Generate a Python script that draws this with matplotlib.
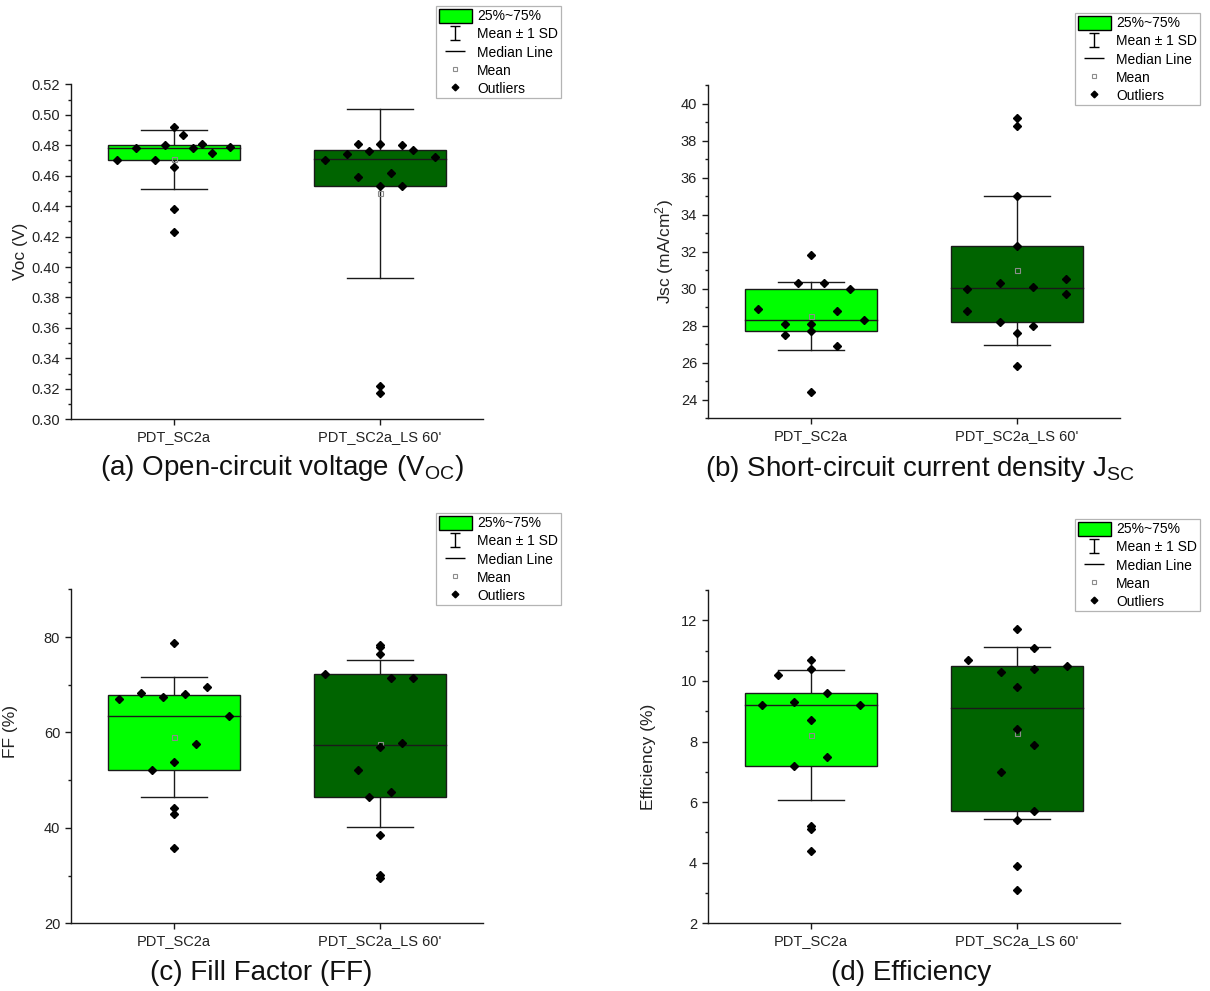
import matplotlib
matplotlib.use("Agg")
import matplotlib.pyplot as plt
from matplotlib.patches import Patch, Rectangle
from matplotlib.lines import Line2D
from matplotlib.path import Path
from matplotlib.ticker import MultipleLocator, FormatStrFormatter

plt.rcParams['font.family'] = ['Liberation Sans', 'DejaVu Sans']
plt.rcParams['mathtext.fontset'] = 'custom'
plt.rcParams['mathtext.rm'] = 'Liberation Sans'

# ---------------- data ----------------
groups = ["PDT_SC2a", "PDT_SC2a_LS 60'"]
box_colors = ["#00FF00", "#006400"]

# Open-circuit voltage (V)
voc_q1 = [0.470, 0.453]
voc_median = [0.478, 0.471]
voc_q3 = [0.480, 0.477]
voc_mean = [0.4707, 0.4485]
voc_sd = [0.0194, 0.0555]
voc_pts_1 = [0.470, 0.478, 0.470, 0.480, 0.492, 0.466, 0.438, 0.423, 0.487, 0.478, 0.481, 0.475, 0.479]
voc_pts_2 = [0.470, 0.474, 0.481, 0.459, 0.476, 0.481, 0.453, 0.322, 0.317, 0.462, 0.480, 0.453, 0.477, 0.472]

# Short-circuit current density (mA/cm2)
jsc_q1 = [27.7, 28.2]
jsc_median = [28.3, 30.05]
jsc_q3 = [30.0, 32.3]
jsc_mean = [28.52, 31.0]
jsc_sd = [1.85, 4.02]
jsc_pts_1 = [28.9, 28.1, 27.5, 30.3, 31.8, 28.1, 27.7, 24.4, 30.3, 28.8, 26.9, 30.0, 28.3]
jsc_pts_2 = [30.0, 28.8, 30.3, 28.2, 39.2, 38.8, 35.0, 32.3, 27.6, 25.8, 30.1, 28.0, 30.5, 29.7]

# Fill factor (%)
ff_q1 = [52.2, 46.4]
ff_median = [63.5, 57.4]
ff_q3 = [67.9, 72.2]
ff_mean = [59.1, 57.6]
ff_sd = [12.6, 17.5]
ff_pts_1 = [67.0, 68.2, 52.2, 67.4, 78.8, 53.9, 44.1, 42.9, 35.7, 68.0, 57.5, 69.5, 63.5]
ff_pts_2 = [72.2, 52.1, 46.4, 78.4, 78.0, 76.4, 57.0, 38.5, 30.2, 29.5, 71.5, 47.5, 57.8, 71.5]

# Efficiency (%)
eff_q1 = [7.2, 5.7]
eff_median = [9.2, 9.1]
eff_q3 = [9.6, 10.5]
eff_mean = [8.21, 8.28]
eff_sd = [2.14, 2.83]
eff_pts_1 = [9.2, 10.2, 9.3, 7.2, 10.7, 10.4, 8.7, 5.2, 5.1, 4.4, 9.6, 7.5, 9.2]
eff_pts_2 = [10.7, 10.3, 7.0, 11.7, 9.8, 8.4, 5.4, 3.9, 3.1, 11.1, 10.4, 7.9, 5.7, 10.5]

# horizontal scatter of the individual points (category units)
voc_jit_1 = [-0.275, -0.184, -0.092, -0.045, 0, 0, 0, 0, 0.045, 0.091, 0.136, 0.183, 0.273]
voc_jit_2 = [-0.267, -0.160, -0.107, -0.107, -0.053, 0, 0, 0, 0, 0.053, 0.107, 0.107, 0.160, 0.267]
jsc_jit_1 = [-0.257, -0.128, -0.128, -0.065, 0, 0, 0, 0, 0.063, 0.128, 0.128, 0.191, 0.256]
jsc_jit_2 = [-0.241, -0.241, -0.081, -0.081, 0, 0, 0, 0, 0, 0, 0.079, 0.079, 0.239, 0.239]
ff_jit_1 = [-0.267, -0.160, -0.107, -0.053, 0, 0, 0, 0, 0, 0.053, 0.107, 0.160, 0.267]
ff_jit_2 = [-0.267, -0.107, -0.053, 0, 0, 0, 0, 0, 0, 0, 0.053, 0.053, 0.107, 0.160]
eff_jit_1 = [-0.239, -0.160, -0.081, -0.081, 0, 0, 0, 0, 0, 0, 0.079, 0.079, 0.239]
eff_jit_2 = [-0.239, -0.079, -0.079, 0, 0, 0, 0, 0, 0, 0.081, 0.081, 0.081, 0.081, 0.241]

# ---------------- drawing ----------------
W, H = 1210, 991
fig = plt.figure(figsize=(W / 100, H / 100), dpi=100)
EDGE = "#1a1a1a"


def px_axes(left, top, right, bottom):
    return fig.add_axes([left / W, 1 - bottom / H, (right - left) / W, (bottom - top) / H])


def draw_group(ax, pos, q1, med, q3, mean, sd, color, pts, jit):
    bw, cw = 0.64, 0.32
    hi, lo = mean + sd, mean - sd
    ax.plot([pos, pos], [lo, hi], color=EDGE, lw=1.0, zorder=1)
    ax.plot([pos - cw / 2, pos + cw / 2], [hi, hi], color=EDGE, lw=1.0, zorder=1)
    ax.plot([pos - cw / 2, pos + cw / 2], [lo, lo], color=EDGE, lw=1.0, zorder=1)
    ax.add_patch(Rectangle((pos - bw / 2, q1), bw, q3 - q1, facecolor=color,
                           edgecolor=EDGE, lw=1.0, zorder=2))
    ax.plot([pos - bw / 2, pos + bw / 2], [med, med], color=EDGE, lw=1.0, zorder=3)
    ax.plot([pos], [mean], ls='none', marker='s', ms=3.6, mfc='none',
            mec='#8c8c8c', mew=0.8, zorder=4)
    ax.plot([pos + j for j in jit], pts, ls='none', marker='D', ms=3.6,
            color='black', zorder=5)


def style(ax, ylim, major, minor, fmt, ylabel, lab_x, lab_y=0.5):
    ax.set_xlim(0.5, 2.5)
    ax.set_ylim(*ylim)
    ax.set_xticks([1, 2])
    ax.set_xticklabels(groups)
    ax.yaxis.set_major_locator(MultipleLocator(major))
    ax.yaxis.set_minor_locator(MultipleLocator(minor))
    ax.yaxis.set_major_formatter(FormatStrFormatter(fmt))
    for s in ['top', 'right']:
        ax.spines[s].set_visible(False)
    for s in ['left', 'bottom']:
        ax.spines[s].set_linewidth(1.0)
        ax.spines[s].set_color(EDGE)
    ax.tick_params(which='major', direction='out', length=4.3, width=1.0,
                   labelsize=10.5, color=EDGE, labelcolor='#222222')
    ax.tick_params(which='minor', direction='out', length=2.4, width=1.0, color=EDGE)
    ax.tick_params(axis='x', which='minor', bottom=False)
    ax.set_ylabel(ylabel, fontsize=12.5, color='#222222')
    ax.yaxis.set_label_coords(lab_x, lab_y)


panels = [
    dict(box=(71, 84.3, 483, 419.3), q1=voc_q1, med=voc_median, q3=voc_q3, mean=voc_mean,
         sd=voc_sd, pts=[voc_pts_1, voc_pts_2], jit=[voc_jit_1, voc_jit_2],
         ylim=(0.30, 0.52), major=0.02, minor=0.01, fmt='%.2f', ylabel='Voc (V)',
         lab_x=-0.104, lab_y=0.5),
    dict(box=(708, 85, 1120, 418.3), q1=jsc_q1, med=jsc_median, q3=jsc_q3, mean=jsc_mean,
         sd=jsc_sd, pts=[jsc_pts_1, jsc_pts_2], jit=[jsc_jit_1, jsc_jit_2],
         ylim=(23, 41), major=2, minor=1, fmt='%d', ylabel='Jsc (mA/cm$\\mathregular{^2}$)',
         lab_x=-0.078, lab_y=0.5),
    dict(box=(71, 589.3, 483, 923.3), q1=ff_q1, med=ff_median, q3=ff_q3, mean=ff_mean,
         sd=ff_sd, pts=[ff_pts_1, ff_pts_2], jit=[ff_jit_1, ff_jit_2],
         ylim=(20, 90), major=20, minor=10, fmt='%d', ylabel='FF (%)',
         lab_x=-0.128, lab_y=0.575),
    dict(box=(708, 590, 1120, 923.3), q1=eff_q1, med=eff_median, q3=eff_q3, mean=eff_mean,
         sd=eff_sd, pts=[eff_pts_1, eff_pts_2], jit=[eff_jit_1, eff_jit_2],
         ylim=(2, 13), major=2, minor=1, fmt='%d', ylabel='Efficiency (%)',
         lab_x=-0.126, lab_y=0.5),
]

for p in panels:
    ax = px_axes(*p['box'])
    for i in range(2):
        draw_group(ax, i + 1, p['q1'][i], p['med'][i], p['q3'][i], p['mean'][i],
                   p['sd'][i], box_colors[i], p['pts'][i], p['jit'][i])
    style(ax, p['ylim'], p['major'], p['minor'], p['fmt'], p['ylabel'], p['lab_x'], p['lab_y'])

# key entries
ibeam = Path([(-0.7, 1), (0.7, 1), (0, 1), (0, -1), (-0.7, -1), (0.7, -1)],
             [Path.MOVETO, Path.LINETO, Path.MOVETO, Path.LINETO, Path.MOVETO, Path.LINETO])
key_handles = [
    Patch(facecolor='#00FF00', edgecolor='black', lw=1.0),
    Line2D([], [], ls='none', marker=ibeam, ms=10.5, mec='black', mew=1.0),
    Line2D([], [], ls='none', marker='_', ms=14, mec='black', mew=1.0),
    Line2D([], [], ls='none', marker='s', ms=3.4, mfc='none', mec='#8c8c8c', mew=0.8),
    Line2D([], [], ls='none', marker='D', ms=3.4, color='black'),
]
key_labels = ['25%~75%', 'Mean \u00b1 1 SD', 'Median Line', 'Mean', 'Outliers']

for (lx, ly) in [(436, 6), (1075, 13), (436, 513), (1075, 519)]:
    leg = fig.legend(key_handles, key_labels, loc='upper left',
                     bbox_to_anchor=(lx / W, 1 - ly / H), bbox_transform=fig.transFigure,
                     fontsize=10, handlelength=2.4, handleheight=1.15, labelspacing=0.25,
                     borderpad=0.2, handletextpad=0.35, borderaxespad=0,
                     fancybox=False, framealpha=1, edgecolor='#b4b4b4')
    leg.get_frame().set_linewidth(0.9)
    leg.set_zorder(10)

# panel captions
captions = [
    (282, 468, '(a) Open-circuit voltage (V$\\mathregular{_{OC}}$)'),
    (920, 469, '(b) Short-circuit current density J$\\mathregular{_{SC}}$'),
    (261, 973, '(c) Fill Factor (FF)'),
    (911, 973, '(d) Efficiency'),
]
for x, y, t in captions:
    fig.text(x / W, 1 - y / H, t, ha='center', va='center', fontsize=20, color='#111111')

fig.savefig('out.png', dpi=100)
